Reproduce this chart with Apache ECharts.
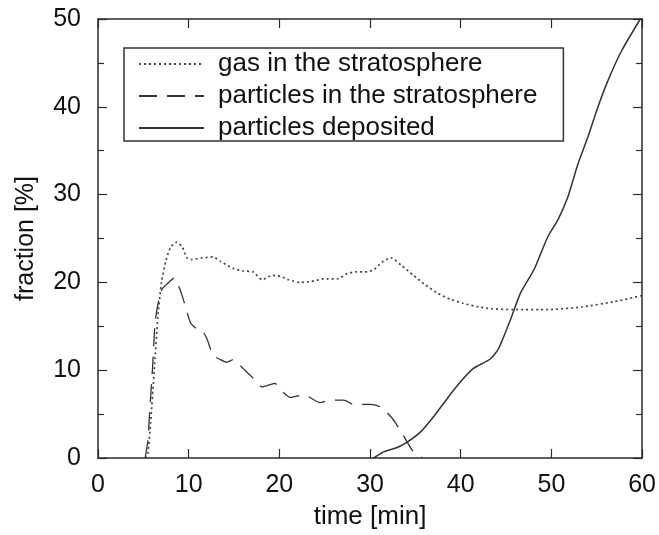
<!DOCTYPE html>
<html>
<head>
<meta charset="utf-8">
<script src="https://cdn.jsdelivr.net/npm/echarts@6/dist/echarts.min.js"></script>
<style>
  html, body { margin: 0; padding: 0; background: #fff; }
  #main { width: 659px; height: 535px; }
</style>
</head>
<body>
<div id="main"></div>
<script>
// fraction [%] against time [min]
const xTicks = [0, 10, 20, 30, 40, 50, 60]
const yTicks = [0, 10, 20, 30, 40, 50]
const seriesNames = ['gas in the stratosphere', 'particles in the stratosphere', 'particles deposited']

const gasStrat = [
  [5.2, 0], [5.5, 0.5], [5.8, 4], [6.2, 10], [6.6, 16], [7.0, 20], [7.5, 22.5], [8.0, 24],
  [8.7, 24.6], [9.3, 24], [9.8, 22.8], [10.3, 22.6], [11.5, 22.8], [12.7, 22.9], [13.5, 22.4],
  [14.9, 21.6], [16, 21.3], [17.1, 21.2], [18.1, 20.3], [19.2, 20.8], [20.1, 20.7], [21, 20.3],
  [22.3, 20.0], [23.5, 20.1], [24.9, 20.4], [26.4, 20.4], [27.5, 21.0], [28.5, 21.2], [29.7, 21.2],
  [30.5, 21.5], [31.3, 22.3], [32.3, 22.8], [33.5, 21.9], [34.8, 20.8], [36, 19.8], [37.4, 18.8],
  [38.8, 18.1], [40.3, 17.6], [42, 17.2], [43.3, 17.0], [45.9, 16.9], [49.6, 16.9], [53.3, 17.2],
  [56.9, 17.8], [60, 18.5]
]
const partStrat = [
  [5.2, 0], [5.5, 2], [5.7, 5.3], [6.0, 10], [6.3, 15.5], [6.7, 18], [7.1, 19.3], [7.8, 20],
  [8.4, 20.5], [9.0, 19.3], [9.4, 18.1], [10.2, 15.4], [10.9, 14.7], [11.5, 14.5], [12.0, 13.6],
  [12.7, 11.7], [13.5, 11.2], [14.2, 10.9], [14.9, 11.2], [16, 10.2], [17, 9.2], [18.1, 8.1],
  [19.5, 8.5], [20.3, 7.6], [21.2, 6.9], [22.7, 7.2], [24.5, 6.3], [25.6, 6.6], [27.1, 6.6],
  [28.2, 6.1], [30, 6.1], [31.2, 5.8], [32.3, 4.7], [33.0, 3.7], [33.6, 2.7], [34.1, 1.8],
  [34.8, 0.7], [35.8, 0]
]
const partDeposited = [
  [30.4, 0], [31.5, 0.7], [33, 1.2], [34.1, 1.8], [35.6, 3.0], [37, 4.7], [38.6, 6.9], [40, 8.7],
  [41.4, 10.2], [43.3, 11.3], [44.2, 12.5], [45.5, 15.8], [46.6, 18.8], [48.1, 21.5], [49.6, 25.2],
  [50.7, 27.1], [51.8, 29.7], [52.9, 33.4], [54, 36.5], [55.1, 39.9], [56.2, 42.9], [57.7, 46.3],
  [59.8, 50]
]

const ink = '#2b2b2b'
const font = "'Liberation Sans', Arial, sans-serif"

var myChart = echarts.init(document.getElementById('main'), null, { renderer: 'canvas' })

const frameAxis = (pos, isY, show) => ({
  type: 'value',
  position: pos,
  min: 0,
  max: isY ? yTicks[yTicks.length - 1] : xTicks[xTicks.length - 1],
  interval: 10,
  axisLine: { show: true, onZero: false, lineStyle: { color: ink, width: 1.5 } },
  axisTick: { show: true, inside: true, length: 9, lineStyle: { color: ink, width: 1.2 } },
  minorTick: { show: isY, splitNumber: 2, length: 6, lineStyle: { color: ink, width: 1.2 } },
  splitLine: { show: false },
  axisLabel: {
    show: show,
    color: '#111',
    fontSize: 25,
    fontFamily: font,
    margin: isY ? 17 : 15,
    showMinLabel: true,
    showMaxLabel: true
  }
})

var option = {
  animation: false,
  backgroundColor: '#fff',
  grid: { left: 98, right: 16, top: 19, bottom: 71 },
  legend: {
    orient: 'vertical',
    left: 124,
    top: 48,
    data: seriesNames,
    itemWidth: 65,
    itemHeight: 14,
    itemGap: 6,
    padding: [3, 26, 0, 14],
    borderColor: '#333',
    borderWidth: 1.5,
    backgroundColor: '#fff',
    itemStyle: { opacity: 0 },
    textStyle: { fontSize: 26, fontFamily: font, color: '#111', padding: [0, 0, 0, 9] }
  },
  xAxis: [
    Object.assign(frameAxis('bottom', false, true), {
      name: 'time [min]',
      nameLocation: 'middle',
      nameGap: 46,
      nameTextStyle: { fontSize: 26, fontFamily: font, color: '#111' }
    }),
    frameAxis('top', false, false)
  ],
  yAxis: [
    Object.assign(frameAxis('left', true, true), {
      name: 'fraction [%]',
      nameLocation: 'middle',
      nameGap: 59,
      nameTextStyle: { fontSize: 25, fontFamily: font, color: '#111' }
    }),
    frameAxis('right', true, false)
  ],
  series: [
    {
      name: seriesNames[0],
      type: 'line',
      data: gasStrat,
      smooth: 0.2,
      showSymbol: false,
      symbol: 'none',
      lineStyle: { color: '#444', width: 1.7, type: [2, 3] },
      itemStyle: { color: '#444' }
    },
    {
      name: seriesNames[1],
      type: 'line',
      data: partStrat,
      smooth: 0.2,
      showSymbol: false,
      symbol: 'none',
      lineStyle: { color: '#333', width: 1.3, type: [18, 10] },
      itemStyle: { color: '#333' }
    },
    {
      name: seriesNames[2],
      type: 'line',
      data: partDeposited,
      smooth: 0.2,
      showSymbol: false,
      symbol: 'none',
      clip: true,
      lineStyle: { color: '#333', width: 1.5, type: 'solid' },
      itemStyle: { color: '#333' }
    }
  ]
}

option && myChart.setOption(option)
</script>
</body>
</html>
